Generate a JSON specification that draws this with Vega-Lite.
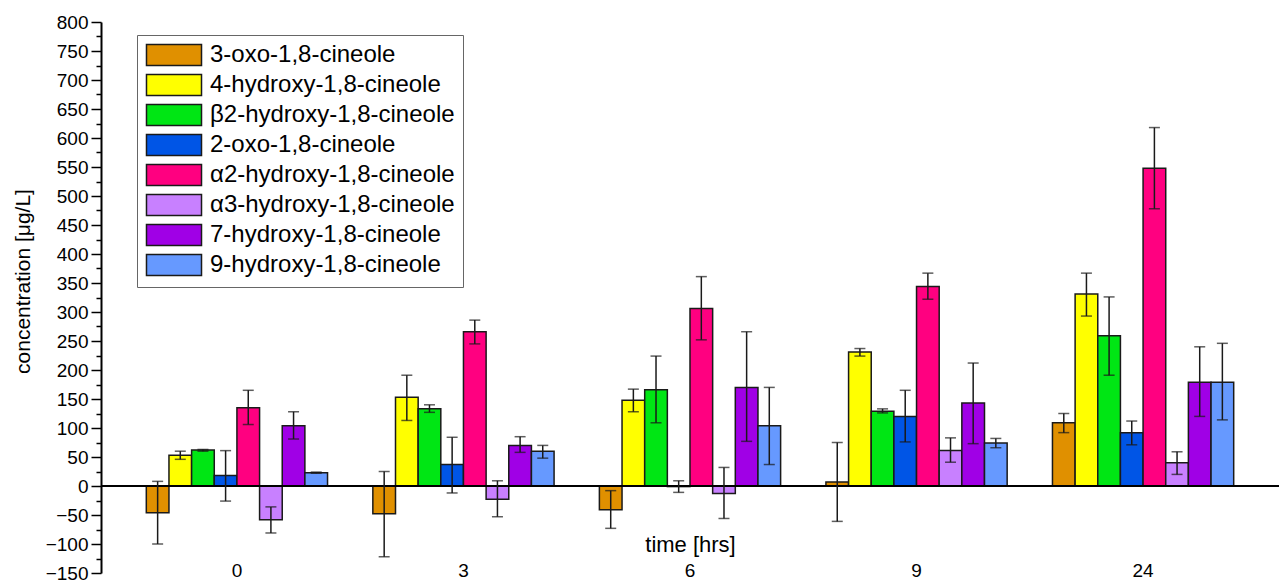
{
  "$schema": "https://vega.github.io/schema/vega-lite/v6.json",
  "width": 1178,
  "height": 551,
  "autosize": {"type": "none"},
  "padding": {"left": 101, "top": 22, "right": 0, "bottom": 7},
  "background": "white",
  "config": {
    "view": {"stroke": null},
    "font": "Liberation Sans"
  },
  "data": {
    "values": [
      {"time": "0", "compound": "3-oxo-1,8-cineole", "value": -46, "lo": -100, "hi": 8},
      {"time": "0", "compound": "4-hydroxy-1,8-cineole", "value": 53, "lo": 46, "hi": 60},
      {"time": "0", "compound": "β2-hydroxy-1,8-cineole", "value": 62, "lo": 60, "hi": 63},
      {"time": "0", "compound": "2-oxo-1,8-cineole", "value": 18, "lo": -26, "hi": 61},
      {"time": "0", "compound": "α2-hydroxy-1,8-cineole", "value": 135, "lo": 106, "hi": 165},
      {"time": "0", "compound": "α3-hydroxy-1,8-cineole", "value": -58, "lo": -81, "hi": -36},
      {"time": "0", "compound": "7-hydroxy-1,8-cineole", "value": 104, "lo": 81, "hi": 128},
      {"time": "0", "compound": "9-hydroxy-1,8-cineole", "value": 23, "lo": 22, "hi": 24},
      {"time": "3", "compound": "3-oxo-1,8-cineole", "value": -48, "lo": -122, "hi": 25},
      {"time": "3", "compound": "4-hydroxy-1,8-cineole", "value": 153, "lo": 113, "hi": 191},
      {"time": "3", "compound": "β2-hydroxy-1,8-cineole", "value": 133, "lo": 127, "hi": 140},
      {"time": "3", "compound": "2-oxo-1,8-cineole", "value": 37, "lo": -12, "hi": 84},
      {"time": "3", "compound": "α2-hydroxy-1,8-cineole", "value": 266, "lo": 245, "hi": 286},
      {"time": "3", "compound": "α3-hydroxy-1,8-cineole", "value": -23, "lo": -53, "hi": 9},
      {"time": "3", "compound": "7-hydroxy-1,8-cineole", "value": 70, "lo": 58, "hi": 85},
      {"time": "3", "compound": "9-hydroxy-1,8-cineole", "value": 60, "lo": 48, "hi": 70},
      {"time": "6", "compound": "3-oxo-1,8-cineole", "value": -41, "lo": -73, "hi": -8},
      {"time": "6", "compound": "4-hydroxy-1,8-cineole", "value": 148, "lo": 128, "hi": 167},
      {"time": "6", "compound": "β2-hydroxy-1,8-cineole", "value": 166, "lo": 109, "hi": 224},
      {"time": "6", "compound": "2-oxo-1,8-cineole", "value": -1, "lo": -11, "hi": 9},
      {"time": "6", "compound": "α2-hydroxy-1,8-cineole", "value": 306, "lo": 252, "hi": 361},
      {"time": "6", "compound": "α3-hydroxy-1,8-cineole", "value": -13, "lo": -56, "hi": 32},
      {"time": "6", "compound": "7-hydroxy-1,8-cineole", "value": 170, "lo": 77, "hi": 266},
      {"time": "6", "compound": "9-hydroxy-1,8-cineole", "value": 104, "lo": 37, "hi": 170},
      {"time": "9", "compound": "3-oxo-1,8-cineole", "value": 7, "lo": -61, "hi": 75},
      {"time": "9", "compound": "4-hydroxy-1,8-cineole", "value": 231, "lo": 224, "hi": 237},
      {"time": "9", "compound": "β2-hydroxy-1,8-cineole", "value": 129, "lo": 126, "hi": 133},
      {"time": "9", "compound": "2-oxo-1,8-cineole", "value": 120, "lo": 76, "hi": 165},
      {"time": "9", "compound": "α2-hydroxy-1,8-cineole", "value": 344, "lo": 322, "hi": 367},
      {"time": "9", "compound": "α3-hydroxy-1,8-cineole", "value": 61, "lo": 41, "hi": 83},
      {"time": "9", "compound": "7-hydroxy-1,8-cineole", "value": 143, "lo": 73, "hi": 212},
      {"time": "9", "compound": "9-hydroxy-1,8-cineole", "value": 74, "lo": 66, "hi": 82},
      {"time": "24", "compound": "3-oxo-1,8-cineole", "value": 109, "lo": 92, "hi": 125},
      {"time": "24", "compound": "4-hydroxy-1,8-cineole", "value": 331, "lo": 293, "hi": 367},
      {"time": "24", "compound": "β2-hydroxy-1,8-cineole", "value": 259, "lo": 191, "hi": 326},
      {"time": "24", "compound": "2-oxo-1,8-cineole", "value": 92, "lo": 71, "hi": 112},
      {"time": "24", "compound": "α2-hydroxy-1,8-cineole", "value": 548, "lo": 478, "hi": 618},
      {"time": "24", "compound": "α3-hydroxy-1,8-cineole", "value": 40, "lo": 20, "hi": 59},
      {"time": "24", "compound": "7-hydroxy-1,8-cineole", "value": 179, "lo": 120, "hi": 240},
      {"time": "24", "compound": "9-hydroxy-1,8-cineole", "value": 179, "lo": 114, "hi": 246}
    ]
  },
  "encoding": {
    "x": {
      "field": "time",
      "type": "ordinal",
      "sort": ["0", "3", "6", "9", "24"],
      "scale": {"paddingInner": 0.2, "paddingOuter": 0.2},
      "axis": {
        "orient": "bottom",
        "domain": false,
        "ticks": false,
        "labelAngle": 0,
        "labelPadding": -12,
        "labelFontSize": 19,
        "labelColor": "black",
        "labelFont": "Liberation Sans",
        "title": "time [hrs]",
        "titleFontSize": 22,
        "titleFontWeight": "normal",
        "titleFont": "Liberation Sans",
        "titleColor": "black",
        "titleY": -29,
        "titleBaseline": "middle"
      }
    },
    "xOffset": {
      "field": "compound",
      "type": "nominal",
      "sort": ["3-oxo-1,8-cineole", "4-hydroxy-1,8-cineole", "β2-hydroxy-1,8-cineole", "2-oxo-1,8-cineole", "α2-hydroxy-1,8-cineole", "α3-hydroxy-1,8-cineole", "7-hydroxy-1,8-cineole", "9-hydroxy-1,8-cineole"],
      "scale": {"paddingInner": 0, "paddingOuter": 0}
    }
  },
  "resolve": {"axis": {"y": "independent"}},
  "layer": [
    {
      "mark": {"type": "bar", "stroke": "#1a1a1a", "strokeWidth": 1.5},
      "encoding": {
        "y": {
          "field": "value",
          "type": "quantitative",
          "scale": {"domain": [-150, 800], "nice": false, "zero": false},
          "axis": {
            "orient": "left",
            "values": [-150, -100, -50, 0, 50, 100, 150, 200, 250, 300, 350, 400, 450, 500, 550, 600, 650, 700, 750, 800],
            "labelOverlap": false,
            "labelFontSize": 19,
            "labelColor": "black",
            "labelFont": "Liberation Sans",
            "labelPadding": 3,
            "domain": true,
            "domainColor": "black",
            "domainWidth": 2,
            "ticks": true,
            "tickColor": "black",
            "tickWidth": 1.5,
            "tickSize": 10,
            "grid": false,
            "title": "concentration [μg/L]",
            "titleFontSize": 21,
            "titleFontWeight": "normal",
            "titleFont": "Liberation Sans",
            "titleColor": "black",
            "titlePadding": 12,
            "titleY": 259
          }
        },
        "color": {
          "field": "compound",
          "type": "nominal",
          "scale": {
            "domain": ["3-oxo-1,8-cineole", "4-hydroxy-1,8-cineole", "β2-hydroxy-1,8-cineole", "2-oxo-1,8-cineole", "α2-hydroxy-1,8-cineole", "α3-hydroxy-1,8-cineole", "7-hydroxy-1,8-cineole", "9-hydroxy-1,8-cineole"],
            "range": ["#E09000", "#FFFF00", "#00E614", "#0055E6", "#FF0080", "#C880FF", "#A000E6", "#6699FF"]
          },
          "legend": {
            "title": null,
            "orient": "none",
            "legendX": 36,
            "legendY": 13,
            "padding": 8,
            "fillColor": "white",
            "strokeColor": "#666666",
            "symbolType": "M-2.62,-1H2.62V1H-2.62Z",
            "symbolSize": 441,
            "symbolOffset": 17,
            "symbolStrokeColor": "#1a1a1a",
            "symbolStrokeWidth": 1.5,
            "symbolOpacity": 1,
            "labelFontSize": 24,
            "labelFont": "Liberation Sans",
            "labelColor": "black",
            "labelOffset": 24,
            "labelLimit": 400,
            "rowPadding": 2
          }
        }
      }
    },
    {
      "mark": {"type": "rule", "stroke": "black", "strokeWidth": 2},
      "encoding": {"y": {"datum": 0, "scale": {"domain": [-150, 800], "nice": false, "zero": false}, "axis": null}, "xOffset": null, "x": null}
    },
    {
      "mark": {"type": "rule", "stroke": "#1a1a1a", "strokeWidth": 1.5},
      "encoding": {
        "y": {
          "field": "lo",
          "type": "quantitative",
          "scale": {"domain": [-150, 800], "nice": false, "zero": false},
          "axis": {
            "orient": "left",
            "values": [-125, -75, -25, 25, 75, 125, 175, 225, 275, 325, 375, 425, 475, 525, 575, 625, 675, 725, 775],
            "labels": false,
            "domain": false,
            "ticks": true,
            "tickColor": "black",
            "tickWidth": 1.5,
            "tickSize": 5,
            "grid": false,
            "title": null
          }
        },
        "y2": {"field": "hi"}
      }
    },
    {
      "mark": {"type": "tick", "color": "#1a1a1a", "thickness": 1.5, "size": 11, "orient": "horizontal"},
      "encoding": {"y": {"field": "lo", "type": "quantitative", "scale": {"domain": [-150, 800], "nice": false, "zero": false}, "axis": null}}
    },
    {
      "mark": {"type": "tick", "color": "#1a1a1a", "thickness": 1.5, "size": 11, "orient": "horizontal"},
      "encoding": {"y": {"field": "hi", "type": "quantitative", "scale": {"domain": [-150, 800], "nice": false, "zero": false}, "axis": null}}
    }
  ]
}
